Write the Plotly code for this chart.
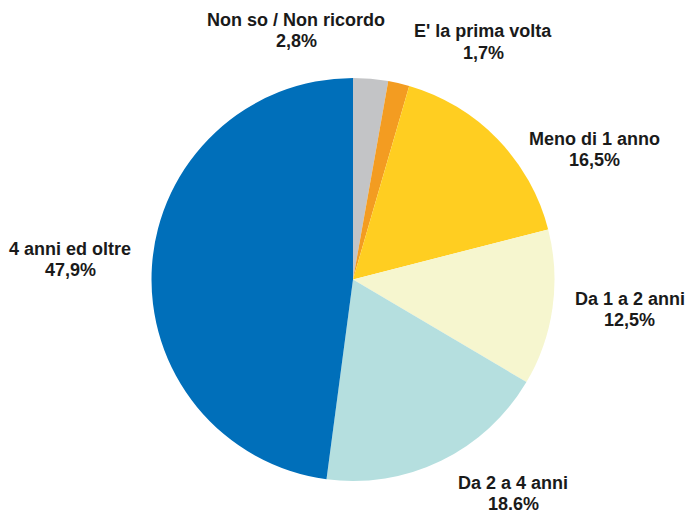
import plotly.graph_objects as go

# Data
categories = ["Non so / Non ricordo", "E' la prima volta", "Meno di 1 anno",
              "Da 1 a 2 anni", "Da 2 a 4 anni", "4 anni ed oltre"]
values = [2.8, 1.7, 16.5, 12.5, 18.6, 47.9]
value_labels = ["2,8%", "1,7%", "16,5%", "12,5%", "18.6%", "47,9%"]

# Styling
colors = ["#C3C4C6", "#F39C21", "#FFCE21", "#F6F6CF", "#B5DFDF", "#006FBA"]
W, H = 686, 513
# label centres (pixels): x centre, y of first-line cap middle
label_pos = [(296, 20), (483, 31.5), (594, 139), (629.5, 299), (513, 483), (70, 249)]
line_gap = 21

cx, cy, r = 353, 279.5, 201.5

fig = go.Figure(go.Pie(
    labels=categories,
    values=values,
    sort=False,
    direction="clockwise",
    rotation=0,
    textinfo="none",
    hoverinfo="label+percent",
    marker=dict(colors=colors, line=dict(width=0)),
    domain=dict(x=[(cx - r) / W, (cx + r) / W],
                y=[(H - cy - r) / H, (H - cy + r) / H]),
    showlegend=False,
))

font = dict(family="Liberation Sans, Arial, sans-serif", size=18, color="#1a1a1a")
for cat, vl, (px, py) in zip(categories, value_labels, label_pos):
    for i, line in enumerate([cat, vl]):
        fig.add_annotation(
            x=px / W, y=1 - (py + i * line_gap) / H, xref="paper", yref="paper",
            text=f"<b>{line}</b>", showarrow=False,
            xanchor="center", yanchor="middle", align="center",
            font=font,
        )

fig.update_layout(
    width=W, height=H,
    margin=dict(l=0, r=0, t=0, b=0),
    paper_bgcolor="white", plot_bgcolor="white",
)

fig.write_html("out.html", config={"displayModeBar": False},
               post_script="document.body.style.margin='0';")
